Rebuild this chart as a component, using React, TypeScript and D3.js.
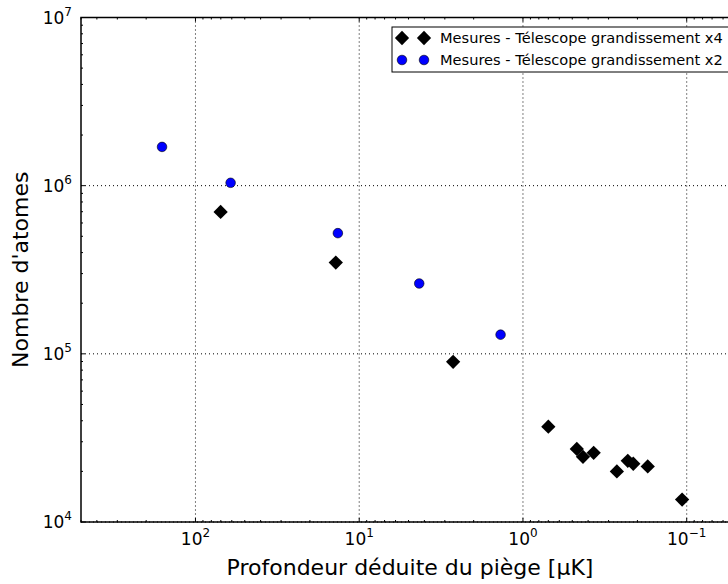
import React, { useEffect, useRef } from "react"
import * as d3 from "d3"

// depth in µK / atom number
const depthX4 = [70.2, 13.9, 2.67, 0.70, 0.469, 0.430, 0.370, 0.267, 0.229, 0.212, 0.173, 0.1067]
const atomsX4 = [6.98e5, 3.49e5, 8.97e4, 3.69e4, 2.72e4, 2.44e4, 2.58e4, 2.0e4, 2.31e4, 2.22e4, 2.14e4, 1.36e4]
const depthX2 = [160, 61, 13.5, 4.3, 1.37]
const atomsX2 = [1.7e6, 1.04e6, 5.22e5, 2.62e5, 1.3e5]

const xMajors = [100, 10, 1, 0.1]
const yMajors = [1e4, 1e5, 1e6, 1e7]
const legendLabels = ["Mesures - Télescope grandissement x4", "Mesures - Télescope grandissement x2"]

export default function App() {
  const ref = useRef(null)
  useEffect(() => {
    const W = 728, H = 584
    const left = 81, top = 17.5, right = 736, bottom = 522
    const svg = d3.select(ref.current).attr("width", W).attr("height", H)
    svg.selectAll("*").remove()
    const font = "DejaVu Sans, sans-serif"

    const x = d3.scaleLog().domain([500, 0.05]).range([left, right])
    const y = d3.scaleLog().domain([1e4, 1e7]).range([bottom, top])

    svg.append("rect").attr("width", W).attr("height", H).attr("fill", "white")

    // grid
    const grid = svg.append("g").attr("stroke", "black").attr("stroke-width", 1)
      .attr("stroke-dasharray", "1,3")
    xMajors.forEach(v => {
      grid.append("line").attr("x1", x(v)).attr("x2", x(v)).attr("y1", top).attr("y2", bottom)
    })
    yMajors.forEach(v => {
      grid.append("line").attr("x1", left).attr("x2", right).attr("y1", y(v)).attr("y2", y(v))
    })

    // minor + major ticks (inside, all four sides)
    const ticks = svg.append("g").attr("stroke", "black").attr("stroke-width", 1)
    const xTicks = []
    for (let e = -2; e <= 2; e++) for (let m = 1; m <= 9; m++) {
      const v = m * Math.pow(10, e)
      if (v <= 500 && v >= 0.05) xTicks.push([v, m === 1])
    }
    xTicks.forEach(([v, major]) => {
      const len = major ? 4 : 2
      const px = x(v)
      ticks.append("line").attr("x1", px).attr("x2", px).attr("y1", bottom).attr("y2", bottom - len)
      ticks.append("line").attr("x1", px).attr("x2", px).attr("y1", top).attr("y2", top + len)
    })
    const yTicks = []
    for (let e = 4; e <= 7; e++) for (let m = 1; m <= 9; m++) {
      const v = m * Math.pow(10, e)
      if (v <= 1e7) yTicks.push([v, m === 1])
    }
    yTicks.forEach(([v, major]) => {
      const len = major ? 4 : 2
      const py = y(v)
      ticks.append("line").attr("x1", left).attr("x2", left + len).attr("y1", py).attr("y2", py)
      ticks.append("line").attr("x1", right).attr("x2", right - len).attr("y1", py).attr("y2", py)
    })

    // frame
    svg.append("rect").attr("x", left).attr("y", top).attr("width", right - left).attr("height", bottom - top)
      .attr("fill", "none").attr("stroke", "black").attr("stroke-width", 1.5)

    // tick labels
    const expLabel = (g, v) => {
      const t = g.append("text").attr("font-family", font).attr("font-size", 17).attr("fill", "black")
      t.append("tspan").text("10")
      t.append("tspan").attr("font-size", 12).attr("dy", -8).text(String(Math.round(Math.log10(v))).replace("-", "\u2212"))
      return t
    }
    xMajors.forEach(v => {
      const g = svg.append("g").attr("transform", `translate(${x(v)},${bottom + 23})`)
      expLabel(g, v).attr("text-anchor", "middle")
    })
    yMajors.forEach(v => {
      const g = svg.append("g").attr("transform", `translate(${left - 9},${y(v) + 6})`)
      expLabel(g, v).attr("text-anchor", "end")
    })

    // axis titles
    svg.append("text").attr("x", 410).attr("y", 575).attr("text-anchor", "middle")
      .attr("font-family", font).attr("font-size", 22).text("Profondeur déduite du piège [µK]")
    svg.append("text").attr("transform", `translate(28,${(top + bottom) / 2}) rotate(-90)`)
      .attr("text-anchor", "middle").attr("font-family", font).attr("font-size", 22).text("Nombre d'atomes")

    const plot = svg.append("g")
    const diamond = d3.symbol().type(d3.symbolDiamond2).size(130)

    depthX2.forEach((d, i) => {
      plot.append("circle").attr("cx", x(d)).attr("cy", y(atomsX2[i])).attr("r", 4.8)
        .attr("fill", "#0000ff").attr("stroke", "black").attr("stroke-width", 0.6)
    })
    depthX4.forEach((d, i) => {
      plot.append("path").attr("d", diamond).attr("transform", `translate(${x(d)},${y(atomsX4[i])})`)
        .attr("fill", "black")
    })

    // legend (box runs off the right edge, as in the original figure)
    const lg = svg.append("g")
    lg.append("rect").attr("x", 392).attr("y", 27).attr("width", 360).attr("height", 45)
      .attr("fill", "white").attr("stroke", "black").attr("stroke-width", 1)
    ;[402, 424].forEach(px => {
      lg.append("path").attr("d", diamond).attr("transform", `translate(${px},38)`).attr("fill", "black")
      lg.append("circle").attr("cx", px).attr("cy", 60).attr("r", 4.8)
        .attr("fill", "#0000ff").attr("stroke", "black").attr("stroke-width", 0.6)
    })
    legendLabels.forEach((s, i) => {
      lg.append("text").attr("x", 440).attr("y", 43 + i * 22).attr("font-family", font)
        .attr("font-size", 14.6).text(s)
    })
  }, [])

  return (
    <svg ref={ref} style={{ position: "absolute", left: 0, top: 0, display: "block" }}></svg>
  )
}
